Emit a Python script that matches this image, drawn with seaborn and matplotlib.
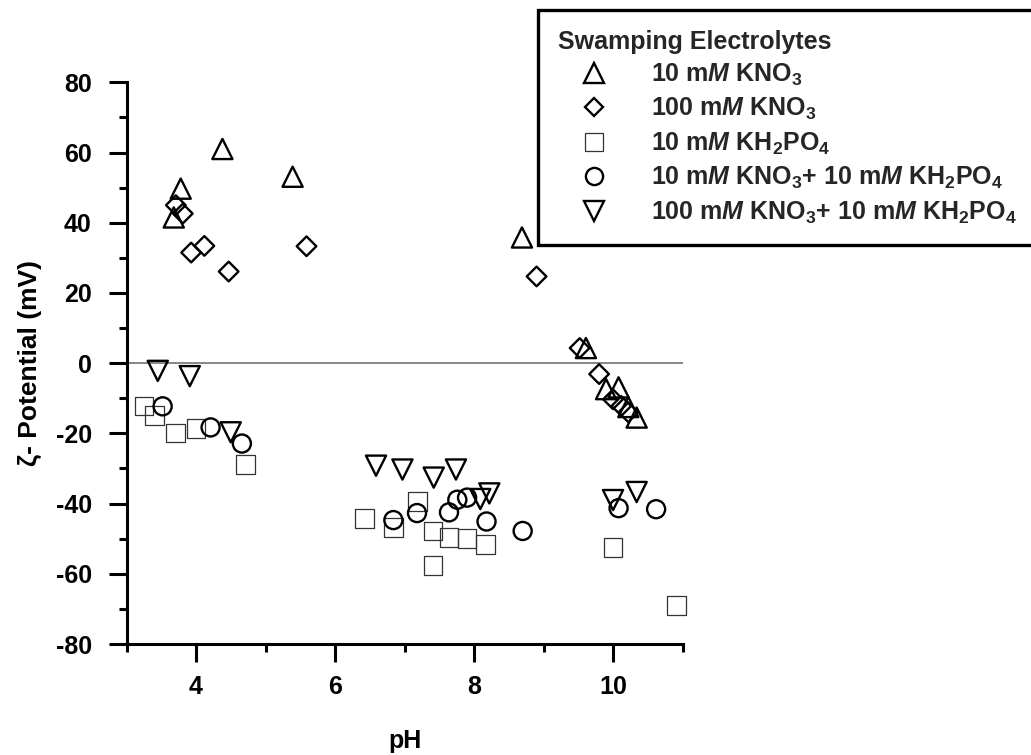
import numpy as np
import pandas as pd
import matplotlib
matplotlib.use("Agg")
import matplotlib.pyplot as plt
import seaborn as sns
from matplotlib.lines import Line2D
from matplotlib.ticker import MultipleLocator

sns.set_theme(style="white")
plt.rcParams['font.family'] = ['Liberation Sans', 'DejaVu Sans']
plt.rcParams['font.weight'] = 'bold'
plt.rcParams['axes.unicode_minus'] = False
plt.rcParams['mathtext.fontset'] = 'custom'
plt.rcParams['mathtext.rm'] = 'Liberation Sans:bold'
plt.rcParams['mathtext.it'] = 'Liberation Sans:bold:italic'
plt.rcParams['mathtext.bf'] = 'Liberation Sans:bold'

# ---------------- data ----------------
labels = [
    r"10 m$\mathit{M}$ KNO$_3$",
    r"100 m$\mathit{M}$ KNO$_3$",
    r"10 m$\mathit{M}$ KH$_2$PO$_4$",
    r"10 m$\mathit{M}$ KNO$_3$+ 10 m$\mathit{M}$ KH$_2$PO$_4$",
    r"100 m$\mathit{M}$ KNO$_3$+ 10 m$\mathit{M}$ KH$_2$PO$_4$",
]

ph_kno3_10 = [3.68, 3.78, 4.38, 5.39, 8.69, 9.61, 9.90, 10.08, 10.22, 10.34]
zeta_kno3_10 = [41.5, 49.7, 61.0, 53.1, 35.8, 4.3, -7.4, -6.9, -12.5, -15.5]

ph_kno3_100 = [3.71, 3.81, 3.93, 4.12, 4.47, 5.59, 8.90, 9.52, 9.80, 10.00, 10.12, 10.22]
zeta_kno3_100 = [45.0, 42.6, 31.5, 33.4, 26.1, 33.3, 24.7, 4.3, -3.1, -10.3, -12.2, -14.0]

ph_kh2po4 = [3.25, 3.40, 3.70, 4.00, 4.71, 6.42, 6.84, 7.19, 7.41, 7.41, 7.64, 7.90, 8.16, 10.00, 10.91]
zeta_kh2po4 = [-12.2, -15.0, -19.9, -18.6, -28.8, -44.2, -46.8, -39.4, -47.8, -57.7, -49.7, -49.9, -51.7, -52.5, -69.1]

ph_mix_10 = [3.52, 4.21, 4.66, 6.84, 7.18, 7.64, 7.76, 7.90, 8.18, 8.70, 10.08, 10.62]
zeta_mix_10 = [-12.3, -18.3, -22.9, -44.7, -42.7, -42.5, -38.9, -38.3, -45.1, -47.8, -41.3, -41.6]

ph_mix_100 = [3.45, 3.91, 4.50, 6.59, 6.97, 7.42, 7.74, 8.09, 8.22, 10.00, 10.34]
zeta_mix_100 = [-2.2, -3.7, -19.7, -29.2, -30.3, -32.6, -30.3, -38.7, -37.1, -39.0, -36.7]

x_ticks = [4, 6, 8, 10]
y_ticks = [-80, -60, -40, -20, 0, 20, 40, 60, 80]

series_ph = [ph_kno3_10, ph_kno3_100, ph_kh2po4, ph_mix_10, ph_mix_100]
series_zeta = [zeta_kno3_10, zeta_kno3_100, zeta_kh2po4, zeta_mix_10, zeta_mix_100]

df = pd.concat(
    [pd.DataFrame({"pH": p, "zeta": z, "series": lab})
     for p, z, lab in zip(series_ph, series_zeta, labels)],
    ignore_index=True,
)

# ---------------- styles ----------------
markers = ["^", "D", "s", "o", "v"]
msize = [14.5, 10.0, 13.5, 13.0, 14.5]       # points
edge_col = ["black", "black", "#333333", "black", "black"]
edge_w = [1.7, 1.7, 0.9, 1.7, 1.7]

FS = 18

fig = plt.figure(figsize=(10.31, 7.55), dpi=100)
ax = fig.add_axes([0.1227, 0.147, 0.662 - 0.1227, 0.891 - 0.147])

ax.axhline(0, color="#666666", lw=1.1, zorder=1)

for lab, m, ms, ec, ew in zip(labels, markers, msize, edge_col, edge_w):
    sub = df[df["series"] == lab]
    sns.scatterplot(data=sub, x="pH", y="zeta", ax=ax, marker=m, s=ms ** 2,
                    facecolors="none", edgecolor=ec, linewidth=ew,
                    zorder=3, legend=False, clip_on=False)

ax.set_xlim(3, 11)
ax.set_ylim(-80, 80)
ax.set_xticks(x_ticks)
ax.set_yticks(y_ticks)
ax.xaxis.set_minor_locator(MultipleLocator(1))
ax.yaxis.set_minor_locator(MultipleLocator(10))

for side in ["top", "right"]:
    ax.spines[side].set_visible(False)
for side in ["left", "bottom"]:
    ax.spines[side].set_linewidth(2.2)
    ax.spines[side].set_color("black")

ax.tick_params(axis="both", which="major", direction="out", length=13, width=2.2,
               color="black", labelsize=FS, labelcolor="black")
ax.tick_params(axis="both", which="minor", direction="out", length=6, width=2.2,
               color="black")
ax.tick_params(axis="x", which="major", pad=9)
ax.tick_params(axis="y", which="major", pad=12)
ax.tick_params(axis="x", which="both", bottom=True)
ax.tick_params(axis="y", which="both", left=True)
for t in ax.get_xticklabels() + ax.get_yticklabels():
    t.set_fontweight("bold")

ax.set_xlabel("pH", fontsize=FS, fontweight="bold", labelpad=22, color="black")
ax.set_ylabel("ζ- Potential (mV)", fontsize=FS + 1, fontweight="bold", labelpad=10, color="black")
ax.grid(False)

handles = [Line2D([], [], marker=m, linestyle="none", markerfacecolor="none",
                  markeredgecolor=ec, markeredgewidth=ew, markersize=ms * 0.95)
           for m, ms, ec, ew in zip(markers, msize, edge_col, edge_w)]

leg = fig.legend(handles, labels, loc="upper left",
                 bbox_to_anchor=(538 / 1031, 1 - 10 / 755),
                 bbox_transform=fig.transFigure,
                 title="Swamping Electrolytes",
                 title_fontproperties={"weight": "bold", "size": FS},
                 prop={"weight": "bold", "size": FS},
                 frameon=True, fancybox=False, shadow=False,
                 handlelength=2.95, handletextpad=0.8, labelspacing=0.33,
                 borderpad=0.78, borderaxespad=0)
leg._legend_box.align = "left"
frame = leg.get_frame()
frame.set_edgecolor("black")
frame.set_linewidth(2.4)
frame.set_facecolor("white")
frame.set_alpha(1)

fig.savefig("out.png", dpi=100, facecolor="white")
